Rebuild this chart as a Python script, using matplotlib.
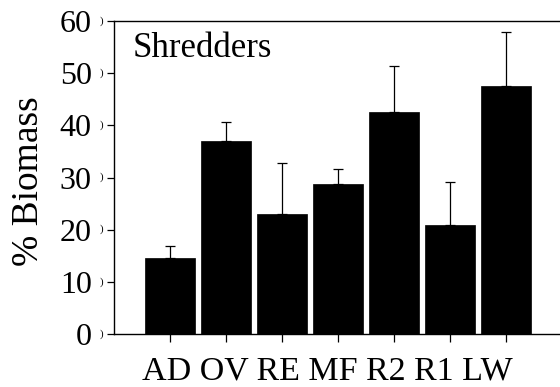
import numpy as np
import matplotlib
matplotlib.use("Agg")
import matplotlib.pyplot as plt

plt.rcParams['font.family'] = ['Liberation Serif', 'DejaVu Serif']

# Shredder share of biomass per site
sites = ['AD', 'OV', 'RE', 'MF', 'R2', 'R1', 'LW']
biomass = [14.6, 37.0, 23.0, 28.8, 42.6, 20.8, 47.5]
upper_err = [2.3, 3.7, 9.8, 2.8, 8.7, 8.3, 10.4]
yticks = [0, 10, 20, 30, 40, 50, 60]

fig = plt.figure(figsize=(5.6, 3.87), dpi=100)
W, H = 560, 387
# axes run slightly past the right edge, so no right spine shows
ax = fig.add_axes([114 / W, 1 - 334 / H, 448 / W, 313 / H])

x = np.arange(len(sites))
ax.bar(x, biomass, width=0.91, color='black', edgecolor='black', linewidth=0.5)
ax.errorbar(x, biomass, yerr=[np.zeros(len(sites)), upper_err], fmt='none',
            ecolor='black', elinewidth=0.9, capsize=3.5, capthick=0.9)

ax.set_xlim(-1, 7)
ax.set_ylim(0, 60)
ax.set_xticks(x)
ax.set_xticklabels([])
ax.set_yticks(yticks)
ax.set_yticklabels([str(v) for v in yticks], fontsize=23)
ax.tick_params(axis='x', length=6, width=0.9)
ax.tick_params(axis='y', length=5, width=0.9, pad=11)

for sp in ax.spines.values():
    sp.set_linewidth(1.0)

# site names set as one evenly spaced line under the bars
fig.text(327 / W, 1 - 379 / H, ' '.join(sites), fontsize=24.5,
         ha='center', va='baseline')

# small bracket marks beside each y tick
for v in yticks:
    ax.text(-0.029, v, ')', transform=ax.get_yaxis_transform(), fontsize=8,
            ha='center', va='center', clip_on=False)

ax.set_ylabel('% Biomass', fontsize=27)
ax.yaxis.set_label_coords(-0.152, 0.49)
ax.text(0.042, 0.885, 'Shredders', transform=ax.transAxes, fontsize=25,
        ha='left', va='baseline')

fig.savefig('out.png', dpi=100)
